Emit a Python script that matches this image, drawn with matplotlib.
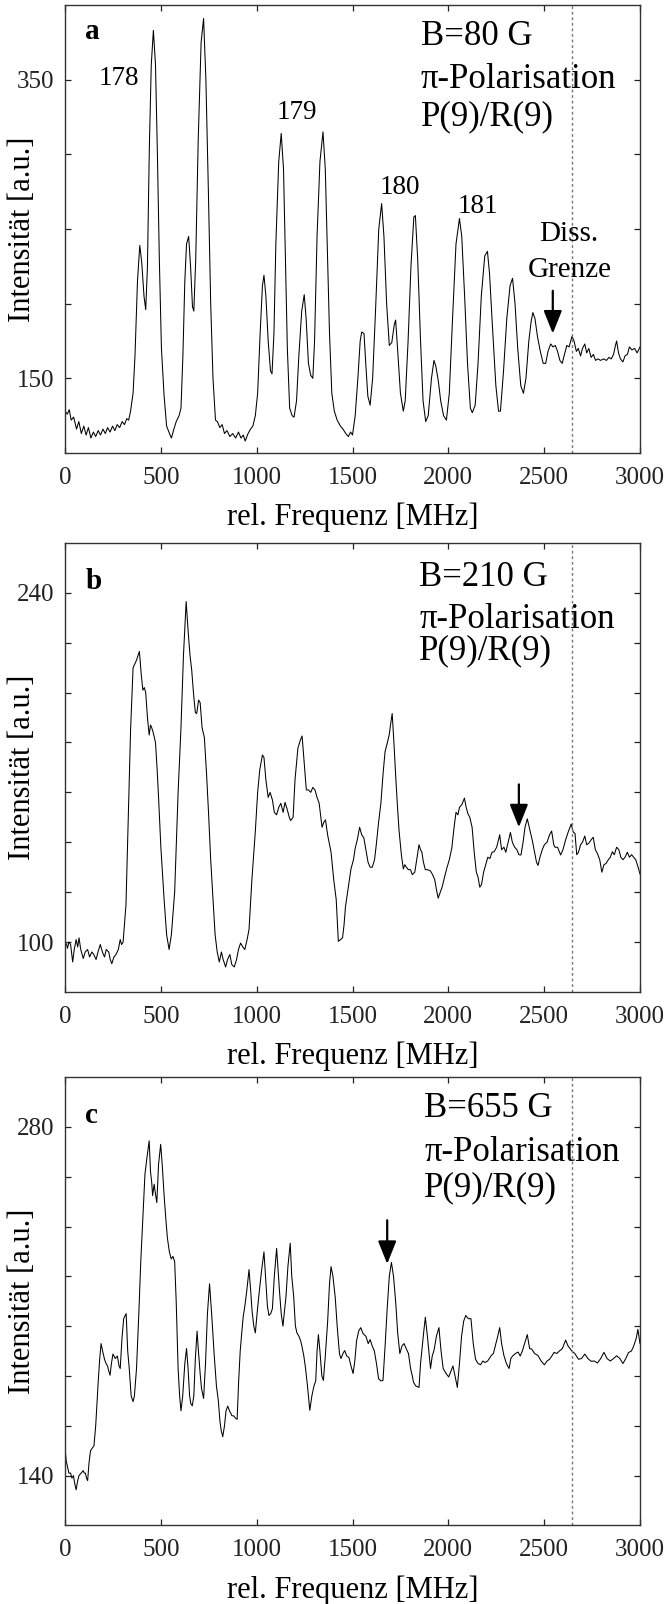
import matplotlib
matplotlib.use("Agg")
import matplotlib.pyplot as plt
from matplotlib.ticker import FixedLocator, FixedFormatter

plt.rcParams['font.family'] = ['Liberation Serif', 'DejaVu Serif']

# ---------------- data ----------------
freq_a = [0, 12, 22, 32, 45, 60, 72, 85, 98, 110, 122, 135, 148, 160, 173, 185, 198, 210, 222, 235, 248, 260, 272, 285, 298, 310, 322, 332, 342, 355, 365, 378, 390, 400, 412, 421, 430, 440, 450, 461, 472, 482, 492, 503, 517, 530, 545, 555, 568, 580, 595, 605, 615, 625, 634, 645, 655, 665, 672, 682, 695, 710, 723, 735, 748, 760, 772, 785, 795, 808, 820, 832, 845, 860, 875, 890, 905, 918, 930, 940, 955, 968, 980, 993, 1005, 1018, 1030, 1038, 1048, 1060, 1072, 1080, 1090, 1100, 1115, 1128, 1140, 1150, 1160, 1172, 1185, 1195, 1208, 1220, 1235, 1248, 1258, 1270, 1282, 1293, 1302, 1315, 1330, 1346, 1358, 1370, 1380, 1392, 1405, 1420, 1437, 1450, 1465, 1478, 1490, 1500, 1514, 1528, 1540, 1548, 1560, 1570, 1580, 1592, 1605, 1620, 1637, 1652, 1664, 1678, 1692, 1705, 1718, 1725, 1735, 1750, 1765, 1775, 1790, 1805, 1820, 1828, 1840, 1855, 1868, 1882, 1895, 1912, 1925, 1935, 1948, 1960, 1975, 1990, 2005, 2022, 2040, 2058, 2070, 2085, 2100, 2115, 2125, 2140, 2155, 2172, 2190, 2204, 2215, 2230, 2248, 2262, 2272, 2288, 2305, 2322, 2335, 2348, 2362, 2378, 2392, 2405, 2420, 2432, 2441, 2452, 2465, 2480, 2495, 2508, 2520, 2534, 2546, 2558, 2570, 2582, 2594, 2606, 2618, 2630, 2645, 2656, 2668, 2678, 2690, 2700, 2712, 2722, 2733, 2745, 2757, 2768, 2780, 2795, 2810, 2825, 2838, 2850, 2862, 2872, 2878, 2888, 2898, 2911, 2922, 2934, 2945, 2958, 2972, 2985, 3000]
int_a = [128, 126, 129, 122, 124, 116, 121, 113, 118, 112, 117, 110, 114, 111, 115, 112, 116, 113, 117, 114, 118, 115, 119, 117, 121, 119, 123, 122, 128, 140, 165, 215, 239, 228, 205, 196, 225, 305, 360, 383, 360, 300, 230, 170, 138, 118, 113, 110, 116, 121, 125, 130, 165, 215, 240, 245, 225, 198, 195, 230, 310, 375, 391, 350, 275, 200, 150, 122, 121, 117, 119, 113, 115, 111, 113, 110, 114, 110, 112, 108, 113, 116, 118, 125, 140, 180, 212, 219, 205, 175, 155, 153, 180, 240, 295, 314, 290, 230, 170, 130, 125, 124, 135, 165, 195, 206, 190, 160, 152, 150, 175, 245, 295, 315, 290, 230, 180, 140, 128, 122, 118, 116, 113, 111, 114, 112, 125, 150, 175, 181, 180, 158, 138, 132, 150, 195, 250, 267, 245, 200, 172, 174, 186, 189, 170, 140, 128, 135, 175, 225, 258, 259, 230, 175, 135, 121, 125, 150, 162, 158, 148, 135, 125, 122, 140, 190, 240, 257, 245, 205, 160, 130, 127, 132, 160, 205, 232, 235, 220, 185, 145, 128, 128, 155, 190, 212, 217, 200, 170, 145, 140, 150, 175, 188, 194, 190, 178, 168, 160, 160, 168, 173, 171, 172, 168, 162, 160, 166, 172, 171, 178, 175, 168, 170, 165, 170, 173, 167, 170, 164, 166, 162, 163, 162, 163, 162, 164, 163, 166, 172, 175, 167, 163, 161, 165, 166, 171, 169, 170, 167, 171]

freq_b = [0, 8, 13, 20, 29, 35, 40, 48, 58, 66, 73, 82, 95, 105, 118, 128, 140, 150, 162, 172, 184, 195, 206, 215, 228, 236, 244, 255, 266, 278, 288, 295, 303, 318, 330, 342, 355, 373, 388, 398, 406, 414, 421, 430, 439, 446, 452, 460, 472, 480, 488, 500, 517, 530, 543, 555, 572, 590, 605, 618, 632, 642, 652, 661, 670, 680, 687, 697, 705, 715, 727, 738, 749, 760, 772, 783, 794, 805, 816, 825, 838, 848, 860, 870, 883, 895, 905, 916, 928, 938, 950, 960, 975, 993, 1005, 1016, 1030, 1038, 1048, 1060, 1070, 1082, 1092, 1104, 1115, 1126, 1138, 1148, 1160, 1170, 1177, 1190, 1200, 1215, 1228, 1237, 1248, 1259, 1270, 1282, 1293, 1304, 1315, 1326, 1335, 1341, 1350, 1359, 1370, 1388, 1402, 1415, 1426, 1438, 1448, 1456, 1463, 1478, 1492, 1505, 1514, 1525, 1537, 1548, 1559, 1570, 1581, 1592, 1603, 1615, 1625, 1636, 1648, 1660, 1670, 1682, 1692, 1700, 1707, 1716, 1725, 1734, 1743, 1755, 1765, 1773, 1781, 1792, 1803, 1812, 1825, 1835, 1847, 1855, 1862, 1870, 1880, 1893, 1907, 1918, 1929, 1938, 1947, 1958, 1969, 1980, 1991, 2005, 2018, 2030, 2040, 2050, 2058, 2070, 2084, 2093, 2102, 2112, 2124, 2135, 2146, 2155, 2164, 2173, 2184, 2195, 2206, 2217, 2228, 2239, 2252, 2262, 2268, 2278, 2290, 2300, 2312, 2324, 2334, 2346, 2358, 2368, 2379, 2390, 2400, 2412, 2425, 2439, 2450, 2460, 2468, 2478, 2490, 2501, 2515, 2528, 2539, 2550, 2557, 2570, 2586, 2598, 2612, 2625, 2641, 2652, 2661, 2670, 2679, 2690, 2700, 2712, 2722, 2734, 2745, 2756, 2767, 2778, 2790, 2801, 2812, 2823, 2835, 2845, 2856, 2866, 2878, 2890, 2900, 2911, 2922, 2934, 2945, 2956, 2967, 2978, 2990, 3000]
int_b = [100, 99, 97.5, 100, 99, 95, 92, 97, 101, 98, 101.7, 97, 93.4, 96, 97, 94, 96, 95, 93, 96, 99, 96, 94, 97, 96, 93, 91.3, 94, 95, 97, 101, 99, 100, 115, 150, 185, 210, 213, 216.5, 207, 201, 202, 200, 190, 183, 187, 186, 184, 180, 170, 158, 138, 117, 103, 97, 103, 120, 160, 186, 215, 236.5, 225, 215, 209, 200, 192, 191.6, 197, 196, 186, 182, 168, 151.5, 133, 117, 103, 96, 92, 96, 93, 90, 93, 95, 91, 90, 93, 97, 99.6, 98, 97, 101, 105, 125, 144.5, 160, 169, 175, 174, 165, 158, 160, 157, 152, 151, 154, 155.6, 152, 156, 153, 150, 148.7, 150, 165, 177.7, 181, 182.6, 172, 161, 161, 160, 162, 161, 158, 155.6, 150, 146, 148, 149, 143, 136, 125, 117, 100.3, 101, 101.7, 107, 114, 122, 129.3, 133, 137.6, 141, 146, 143, 141.8, 137, 132, 130, 130, 133, 139.7, 148, 155.6, 168, 176.4, 180, 183.3, 188, 191.6, 180, 167, 155, 144.5, 135, 129.3, 131, 130, 129, 129, 127, 128, 133, 139, 137, 136, 132, 129, 129, 128.5, 127, 125, 121, 117.6, 120, 122.4, 126, 129.3, 133, 137.6, 146, 152, 151, 154, 155, 157.7, 154, 151.5, 150, 146, 136, 128, 126, 122, 123, 128, 131, 134, 133.5, 136, 136.2, 138, 141, 143, 137, 138, 136, 140, 143.9, 140, 138, 137, 135, 134.9, 140, 146, 149.4, 145, 140.4, 136, 132, 130.7, 134, 137, 139, 140, 143, 144.5, 139, 138, 138, 134.9, 137, 141, 144, 147.3, 144, 143.5, 135, 136, 139, 140, 142.5, 139, 139.7, 141, 142, 137, 135.5, 133, 128, 131, 131.5, 133, 134, 136.2, 135, 138, 137, 134, 133, 134, 136, 134, 135, 134, 133, 130, 127.3]

freq_c = [0, 6, 13, 20, 29, 36, 44, 50, 58, 66, 73, 84, 95, 100, 106, 112, 118, 125, 133, 142, 151, 160, 173, 180, 188, 196, 206, 214, 222, 228, 235, 242, 250, 262, 273, 282, 288, 297, 306, 312, 319, 327, 335, 345, 355, 362, 373, 385, 395, 405, 417, 428, 439, 446, 452, 457, 465, 472, 479, 488, 499, 507, 517, 526, 534, 544, 554, 563, 572, 580, 590, 598, 605, 614, 625, 634, 642, 650, 656, 664, 672, 680, 689, 696, 705, 712, 723, 733, 743, 754, 765, 778, 790, 800, 808, 815, 823, 832, 840, 849, 858, 865, 871, 880, 890, 898, 906, 914, 922, 930, 938, 948, 960, 968, 976, 985, 993, 1002, 1011, 1025, 1038, 1048, 1056, 1064, 1073, 1082, 1092, 1104, 1112, 1120, 1128, 1137, 1145, 1153, 1163, 1175, 1183, 1193, 1202, 1210, 1220, 1230, 1237, 1246, 1255, 1265, 1277, 1288, 1299, 1308, 1315, 1322, 1330, 1340, 1348, 1358, 1370, 1380, 1388, 1398, 1410, 1420, 1432, 1440, 1450, 1459, 1470, 1481, 1492, 1503, 1512, 1521, 1532, 1543, 1555, 1570, 1582, 1592, 1603, 1614, 1625, 1636, 1648, 1659, 1670, 1681, 1692, 1703, 1714, 1725, 1736, 1747, 1758, 1769, 1780, 1792, 1803, 1812, 1818, 1830, 1847, 1855, 1862, 1872, 1880, 1892, 1907, 1916, 1925, 1938, 1951, 1962, 1973, 1988, 2002, 2014, 2024, 2035, 2047, 2058, 2069, 2080, 2091, 2104, 2118, 2130, 2142, 2155, 2168, 2180, 2191, 2205, 2224, 2235, 2246, 2258, 2268, 2278, 2290, 2303, 2317, 2326, 2335, 2350, 2364, 2375, 2386, 2398, 2412, 2424, 2435, 2450, 2468, 2484, 2501, 2515, 2528, 2540, 2552, 2566, 2579, 2595, 2612, 2625, 2645, 2660, 2679, 2695, 2712, 2728, 2745, 2762, 2778, 2795, 2812, 2828, 2845, 2862, 2878, 2895, 2911, 2926, 2940, 2955, 2967, 2980, 2989, 3000]
int_c = [151, 146, 143.5, 141, 141, 139, 140, 137, 134.3, 138, 140, 141, 142, 141, 141, 139, 138, 145, 150, 151, 152, 160, 177.5, 186, 193, 190, 186.7, 185, 184, 182, 180.3, 185, 188.8, 187, 188, 184, 183, 195, 203, 204, 205, 190, 183, 172, 169.7, 172, 183, 205, 225.6, 242, 261, 268, 274.4, 262, 258, 252.4, 257, 253, 249.6, 265, 273, 265, 252.4, 243, 235.5, 230, 227, 228, 226, 210, 183, 172, 166, 172, 185, 191, 183, 172, 169, 168, 172, 187, 198, 190, 181, 175, 171, 185, 205, 217, 205, 188.8, 176, 170, 162, 158, 155.6, 160, 166, 167.9, 166, 165, 164, 164, 163, 162.6, 178, 190, 197.3, 204, 207.9, 214, 222.7, 215, 206, 200, 197.3, 205, 212, 222, 229.8, 218, 208, 204.3, 205, 207, 220, 231.2, 222, 213, 205, 200, 206, 212, 224, 233.3, 220, 212, 200, 197.3, 196, 194, 191.6, 188, 183, 176, 166.2, 172, 176, 178, 190, 196.6, 190, 180, 178.2, 188, 201.5, 217, 223.9, 220, 211.4, 200, 188.8, 187, 189, 190.2, 188, 187.5, 184, 181, 186, 194, 198, 199.4, 197, 195.9, 193, 194.6, 192, 190, 185, 178.9, 178, 178.2, 192, 207.2, 220, 225.6, 220, 210, 197, 189, 192, 193, 191, 189, 183, 180, 177.5, 176, 175.4, 185, 190.5, 198, 203.6, 195, 183, 188, 190.2, 196, 199.4, 190, 183, 181, 179.6, 182, 184, 180, 175.4, 185, 195.9, 202, 204.3, 203, 203, 193, 186.7, 185, 184.5, 186, 185.4, 186, 188.2, 189, 192.4, 196, 199.4, 193, 188.2, 185, 183, 187, 188, 189, 189.6, 188, 190, 193, 196.6, 191, 190.8, 189, 188.2, 186, 184.5, 186, 186.7, 188, 189.5, 189, 190, 191, 194.4, 192, 190, 189, 186.7, 187, 188.8, 187, 185.9, 186, 185.2, 187, 189.5, 187, 186, 187, 188.1, 187, 185, 187, 189.4, 190, 192, 195, 198.7, 193]

panel_letters = ['a', 'b', 'c']
field_labels = ['B=80 G', 'B=210 G', 'B=655 G']
pol_label = 'π-Polarisation'
branch_label = 'P(9)/R(9)'
ylims = [(100, 400), (80, 260), (120, 300)]
ytick_vals = [[150, 200, 250, 300, 350],
              [100, 120, 140, 160, 180, 200, 220, 240],
              [140, 160, 180, 200, 220, 240, 260, 280]]
ytick_shown = [[150, 350], [100, 240], [140, 280]]
xtick_vals = [0, 500, 1000, 1500, 2000, 2500, 3000]
diss_limit = 2645
arrow_x = [2545, 2368, 1681]
arrow_top = [208.6, 163.2, 242.5]
arrow_tip = [180, 146, 225]
peak_labels = ['178', '179', '180', '181']
peak_label_x = [279, 1211, 1747, 2153]
peak_label_y = [350.8, 328, 277.6, 265]

# ---------------- figure ----------------
fig = plt.figure(figsize=(6.67, 16.04), dpi=100)
left, width = 0.0975, 0.862
boxes = [(0.7176, 0.2793), (0.3816, 0.2799), (0.0490, 0.2795)]
data = [(freq_a, int_a), (freq_b, int_b), (freq_c, int_c)]
text_x = [0.619, 0.616, 0.625]
text_y = [(0.930, 0.834, 0.750), (0.922, 0.829, 0.760), (0.929, 0.831, 0.753)]
letter_y = [0.940, 0.915, 0.915]

for i in range(3):
    bottom, height = boxes[i]
    ax = fig.add_axes([left, bottom, width, height])
    fx, iy = data[i]
    ax.plot(fx, iy, color='black', lw=0.75)
    ax.axvline(diss_limit, color='#777777', lw=1.0, ls=(0, (2, 2)))
    ax.set_xlim(0, 3000)
    ax.set_ylim(*ylims[i])
    ax.xaxis.set_major_locator(FixedLocator(xtick_vals))
    ax.yaxis.set_major_locator(FixedLocator(ytick_vals[i]))
    ax.yaxis.set_major_formatter(FixedFormatter(
        [str(v) if v in ytick_shown[i] else '' for v in ytick_vals[i]]))
    ax.tick_params(direction='in', length=4, width=0.9, top=True, right=True,
                   labelsize=18, colors='#222222')
    ax.tick_params(axis='x', pad=10)
    ax.tick_params(axis='y', pad=8)
    for sp in ax.spines.values():
        sp.set_linewidth(1.0)
        sp.set_color('#333333')
    ax.set_xlabel('rel. Frequenz [MHz]', fontsize=22, labelpad=10)
    ax.set_ylabel('Intensität [a.u.]', fontsize=22)
    ax.yaxis.set_label_coords(-0.048, 0.5)

    ax.text(0.035, letter_y[i], panel_letters[i], transform=ax.transAxes,
            fontsize=21, fontweight='bold', ha='left', va='center')
    ty = text_y[i]
    ax.text(text_x[i], ty[0], field_labels[i], transform=ax.transAxes,
            fontsize=25, ha='left', va='center')
    ax.text(text_x[i], ty[1], pol_label, transform=ax.transAxes,
            fontsize=25, ha='left', va='center')
    ax.text(text_x[i], ty[2], branch_label, transform=ax.transAxes,
            fontsize=25, ha='left', va='center')

    ax.annotate('', xy=(arrow_x[i], arrow_tip[i]), xytext=(arrow_x[i], arrow_top[i]),
                arrowprops=dict(arrowstyle='-|>,head_length=0.7,head_width=0.28',
                                color='black', lw=1.6, mutation_scale=20,
                                shrinkA=0, shrinkB=0))

    if i == 0:
        for lab, px, py in zip(peak_labels, peak_label_x, peak_label_y):
            ax.text(px, py, lab, fontsize=19.5, ha='center', va='center')
        ax.text(2630, 246.5, 'Diss.', fontsize=21, ha='center', va='center')
        ax.text(2634, 222.4, 'Grenze', fontsize=21, ha='center', va='center')

fig.savefig('out.png', dpi=100)
